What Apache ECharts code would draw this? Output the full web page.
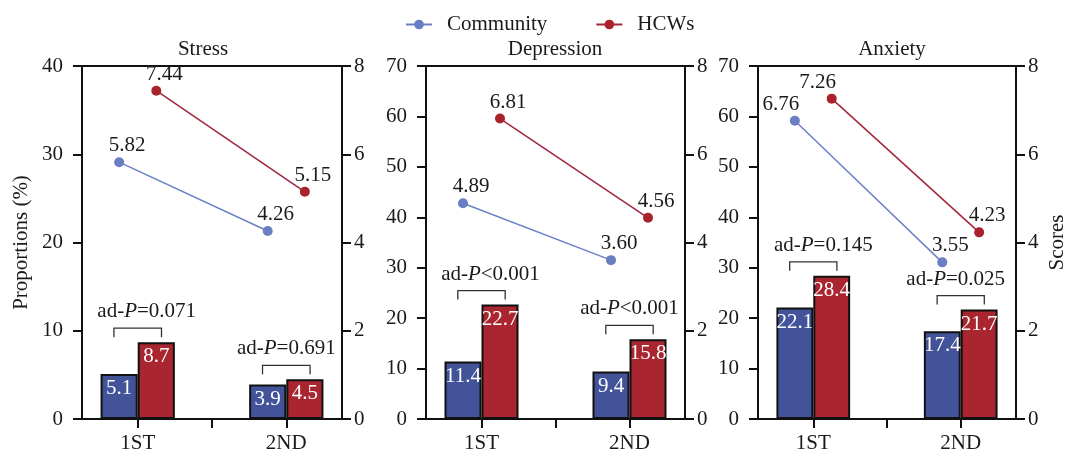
<!DOCTYPE html>
<html><head><meta charset="utf-8">
<script src="https://cdn.jsdelivr.net/npm/echarts@6/dist/echarts.min.js"></script>
<style>html,body{margin:0;padding:0;background:#fff}#c{width:1069px;height:458px}</style>
</head><body><div id="c"></div>
<script>
// ---- data ----
const categories = ['1ST', '2ND'];
const panelTitles = ['Stress', 'Depression', 'Anxiety'];
const leftMax = [40, 70, 70];
const rightMax = [8, 8, 8];
const stressCommunityPct = [5.1, 3.9];
const stressHcwPct = [8.7, 4.5];
const depressionCommunityPct = [11.4, 9.4];
const depressionHcwPct = [22.7, 15.8];
const anxietyCommunityPct = [22.1, 17.4];
const anxietyHcwPct = [28.4, 21.7];
const stressCommunityScore = [5.82, 4.26];
const stressHcwScore = [7.44, 5.15];
const depressionCommunityScore = [4.89, 3.60];
const depressionHcwScore = [6.81, 4.56];
const anxietyCommunityScore = [6.76, 3.55];
const anxietyHcwScore = [7.26, 4.23];
const stressP = ['=0.071', '=0.691'];
const depressionP = ['<0.001', '<0.001'];
const anxietyP = ['=0.145', '=0.025'];

const communityPct = [stressCommunityPct, depressionCommunityPct, anxietyCommunityPct];
const hcwPct = [stressHcwPct, depressionHcwPct, anxietyHcwPct];
const communityScore = [stressCommunityScore, depressionCommunityScore, anxietyCommunityScore];
const hcwScore = [stressHcwScore, depressionHcwScore, anxietyHcwScore];
const adP = [stressP, depressionP, anxietyP];

// ---- layout / style ----
const FONT = 'Liberation Serif';
const FS = 21;
const TXT = '#1a1a1a';
const AX = '#111';
const grids = [
  { left: 82, top: 66, width: 260, height: 353 },
  { left: 426, top: 66, width: 259, height: 353 },
  { left: 758, top: 66, width: 259, height: 353 }
];
const titleX = [198, 550, 887];
const pTextDx = [[9, 0], [9, 0], [10, -5]];
const spacing = 2;                       // category spacing on value x axis
const catPos = categories.map((_, j) => j * spacing);
const tickVals = [catPos[0], (catPos[0] + catPos[1]) / 2, catPos[1]];
const barFrac = 0.25;                    // bar width as fraction of spacing
const half = barFrac * spacing / 2;      // offset of bar centre from category
const pad = 0.75;
const blueBar = '#435399', redBar = '#A9252F';
const blueLine = '#6D80C5', redLine = '#A1263C';
const blueDot = '#6A7EC4', redDot = '#A9222C';

const option = {
  animation: false,
  backgroundColor: '#fff',
  textStyle: { fontFamily: FONT },
  title: panelTitles.map((t, i) => ({
    text: t, left: titleX[i], top: 34, textAlign: 'center',
    textStyle: { fontFamily: FONT, fontSize: FS, fontWeight: 'normal', color: TXT }
  })),
  legend: {
    data: ['Community', 'HCWs'], left: 400, top: 9,
    itemWidth: 26, itemHeight: 12, itemGap: 48,
    textStyle: { fontFamily: FONT, fontSize: FS, color: TXT, padding: [0, 0, 0, 10] }
  },
  grid: grids.map(g => Object.assign({ show: true, borderColor: AX, borderWidth: 2, containLabel: false }, g)),
  xAxis: grids.map((g, i) => ({
    type: 'value', gridIndex: i, min: catPos[0] - pad, max: catPos[1] + pad,
    splitLine: { show: false },
    axisLine: { show: true, onZero: false, lineStyle: { color: AX, width: 2 } },
    axisTick: { show: true, customValues: tickVals, length: 9, lineStyle: { color: AX, width: 2 } },
    axisLabel: {
      customValues: catPos, formatter: v => categories[Math.round(v / spacing)],
      fontFamily: FONT, fontSize: FS, color: TXT, margin: 14
    }
  })),
  yAxis: [],
  series: []
};

grids.forEach((g, i) => {
  option.yAxis.push({
    type: 'value', gridIndex: i, position: 'left', min: 0, max: leftMax[i], interval: 10,
    name: i === 0 ? 'Proportions (%)' : '', nameLocation: 'middle', nameGap: 50,
    nameTextStyle: { fontFamily: FONT, fontSize: FS, color: TXT },
    splitLine: { show: false },
    axisLine: { show: true, onZero: false, lineStyle: { color: AX, width: 2 } },
    axisTick: { show: true, length: 9, lineStyle: { color: AX, width: 2 } },
    axisLabel: { fontFamily: FONT, fontSize: FS, color: TXT, margin: 19 }
  });
  option.yAxis.push({
    type: 'value', gridIndex: i, position: 'right', min: 0, max: rightMax[i], interval: 2,
    name: i === 2 ? 'Scores' : '', nameLocation: 'middle', nameGap: 31,
    nameTextStyle: { fontFamily: FONT, fontSize: FS, color: TXT },
    splitLine: { show: false },
    axisLine: { show: true, onZero: false, lineStyle: { color: AX, width: 2 } },
    axisTick: { show: true, length: 9, lineStyle: { color: AX, width: 2 } },
    axisLabel: { fontFamily: FONT, fontSize: FS, color: TXT, margin: 12 }
  });

  const barLabel = { show: true, position: 'insideTop', distance: 4, color: '#fff', fontFamily: FONT, fontSize: FS };
  option.series.push({
    name: 'Community (%)', type: 'bar', xAxisIndex: i, yAxisIndex: 2 * i,
    barWidth: (barFrac * 100) + '%', barGap: '0%',
    itemStyle: { color: blueBar, borderColor: AX, borderWidth: 2 },
    label: barLabel,
    data: categories.map((c, j) => [catPos[j], communityPct[i][j]])
  });
  option.series.push({
    name: 'HCWs (%)', type: 'bar', xAxisIndex: i, yAxisIndex: 2 * i,
    barWidth: (barFrac * 100) + '%', barGap: '0%',
    itemStyle: { color: redBar, borderColor: AX, borderWidth: 2 },
    label: barLabel,
    data: categories.map((c, j) => [catPos[j], hcwPct[i][j]])
  });

  const lineLabel = (off) => ({
    show: true, position: 'top', distance: 1, offset: off, color: TXT, fontFamily: FONT, fontSize: FS,
    formatter: p => p.value[1].toFixed(2)
  });
  const offs = (j) => (i === 2 && j === 0) ? [-14, 0] : [8, 0];
  option.series.push({
    name: 'Community', type: 'line', xAxisIndex: i, yAxisIndex: 2 * i + 1,
    symbol: 'circle', symbolSize: 10, z: 5,
    lineStyle: { color: blueLine, width: 1.5 }, itemStyle: { color: blueDot },
    data: categories.map((c, j) => ({ value: [catPos[j] - half, communityScore[i][j]], label: lineLabel(offs(j)) }))
  });
  option.series.push({
    name: 'HCWs', type: 'line', xAxisIndex: i, yAxisIndex: 2 * i + 1,
    symbol: 'circle', symbolSize: 10, z: 5,
    lineStyle: { color: redLine, width: 1.5 }, itemStyle: { color: redDot },
    data: categories.map((c, j) => ({ value: [catPos[j] + half, hcwScore[i][j]], label: lineLabel(offs(j)) }))
  });

  option.series.push({
    type: 'custom', xAxisIndex: i, yAxisIndex: 2 * i, silent: true, z: 6,
    data: categories.map((c, j) => [catPos[j], Math.max(communityPct[i][j], hcwPct[i][j])]),
    renderItem: (params, api) => {
      const x = api.value(0), top = api.value(1);
      const w = half * 1.28;
      const pL = api.coord([x - w, top]);
      const pR = api.coord([x + w, top]);
      const yb = pL[1] - 5, yt = yb - 9;
      return {
        type: 'group',
        children: [
          { type: 'polyline', shape: { points: [[pL[0], yb], [pL[0], yt], [pR[0], yt], [pR[0], yb]] },
            style: { stroke: '#333', fill: null, lineWidth: 1.3 } },
          { type: 'text', style: {
              text: 'ad-{i|P}' + adP[i][params.dataIndex],
              x: (pL[0] + pR[0]) / 2 + pTextDx[i][params.dataIndex], y: yt - 6,
              align: 'center', verticalAlign: 'bottom', fill: TXT,
              font: FS + 'px "Liberation Serif"',
              rich: { i: { fontStyle: 'italic', fontFamily: FONT, fontSize: FS, fill: TXT } }
            } }
        ]
      };
    }
  });
});

const chart = echarts.init(document.getElementById('c'), null, { renderer: 'canvas' });
chart.setOption(option);
</script>
</body></html>
